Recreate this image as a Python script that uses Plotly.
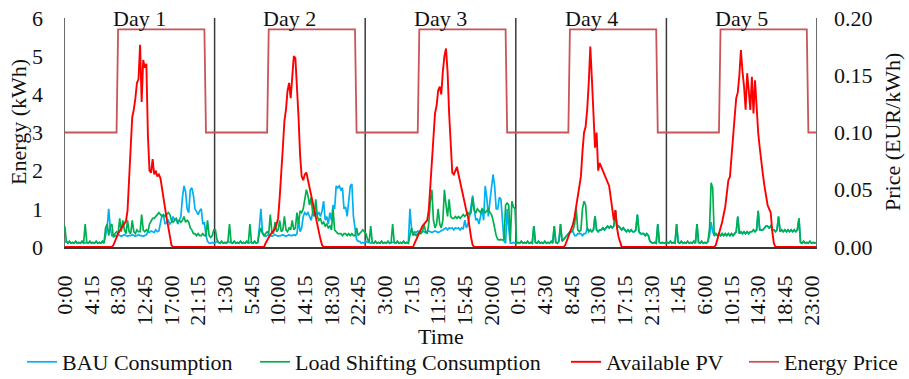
import plotly.graph_objects as go

# ---------------- data (15-minute resolution, 5 days x 96 slots) ----------------
days = ["Day 1", "Day 2", "Day 3", "Day 4", "Day 5"]

tick_labels = ["0:00", "4:15", "8:30", "12:45", "17:00", "21:15",
               "1:30", "5:45", "10:00", "14:15", "18:30", "22:45",
               "3:00", "7:15", "11:30", "15:45", "20:00",
               "0:15", "4:30", "8:45", "13:00", "17:15", "21:30",
               "1:45", "6:00", "10:15", "14:30", "18:45", "23:00"]

bau_d1 = [0.12, 0.15, 0.10, 0.15, 0.10, 0.12, 0.10, 0.15, 0.10, 0.12, 0.10, 0.15,
          0.10, 0.12, 0.12, 0.10, 0.15, 0.10, 0.12, 0.10, 0.15, 0.10, 0.12, 0.10,
          0.15, 0.10, 0.30, 0.50, 1.00, 0.50, 0.30, 0.30, 0.28, 0.30, 0.32, 0.30,
          0.28, 0.30, 0.32, 0.30, 0.28, 0.30, 0.30, 0.32, 0.30, 0.28, 0.30, 0.32,
          0.30, 0.30, 0.28, 0.30, 0.32, 0.40, 0.38, 0.42, 0.40, 0.38, 0.45, 0.40,
          0.42, 0.60, 0.85, 0.80, 0.60, 0.65, 0.70, 0.60, 0.65, 0.80, 0.70, 0.75,
          0.60, 0.70, 0.80, 1.30, 1.60, 1.45, 1.00, 0.90, 1.50, 1.55, 1.35, 1.00,
          0.90, 0.85, 0.95, 1.00, 0.60, 0.65, 0.30, 0.15, 0.10, 0.10, 0.12, 0.10]
bau_d2 = [0.12, 0.15, 0.12, 0.10, 0.15, 0.10, 0.12, 0.10, 0.15, 0.12, 0.12, 0.10,
          0.15, 0.10, 0.12, 0.10, 0.15, 0.10, 0.12, 0.10, 0.15, 0.10, 0.12, 0.12,
          0.10, 0.15, 0.10, 0.12, 0.50, 1.00, 0.40, 0.30, 0.28, 0.30, 0.32, 0.30,
          0.28, 0.30, 0.32, 0.30, 0.28, 0.30, 0.30, 0.32, 0.30, 0.28, 0.30, 0.32,
          0.30, 0.30, 0.32, 0.30, 0.35, 0.70, 0.40, 0.50, 0.80, 0.90, 0.85, 0.90,
          0.80, 0.70, 0.90, 0.95, 0.90, 0.85, 0.90, 0.80, 0.95, 1.20, 0.70, 0.80,
          0.60, 0.90, 0.70, 1.10, 1.00, 1.60, 1.55, 1.60, 1.50, 1.55, 1.00, 1.05,
          0.80, 1.20, 1.60, 1.65, 0.80, 0.50, 0.20, 0.15, 0.15, 0.10, 0.12, 0.10]
bau_d3 = [0.15, 0.12, 0.12, 0.10, 0.12, 0.10, 0.15, 0.10, 0.12, 0.10, 0.15, 0.10,
          0.12, 0.10, 0.15, 0.10, 0.12, 0.12, 0.12, 0.10, 0.15, 0.10, 0.12, 0.10,
          0.15, 0.10, 0.12, 0.10, 1.00, 0.50, 0.35, 0.40, 0.38, 0.42, 0.40, 0.38,
          0.42, 0.40, 0.38, 0.40, 0.42, 0.40, 0.38, 0.40, 0.42, 0.40, 0.38, 0.40,
          0.42, 0.45, 0.48, 0.50, 0.45, 0.50, 0.48, 0.50, 0.45, 0.50, 0.48, 0.50,
          0.45, 0.50, 0.48, 0.70, 0.50, 0.60, 0.80, 1.10, 1.35, 1.00, 0.70, 0.75,
          0.60, 0.80, 1.00, 0.70, 1.60, 1.30, 0.80, 1.20, 1.60, 1.90, 1.60, 1.00,
          1.00, 1.30, 1.25, 0.60, 0.15, 0.10, 1.00, 0.50, 0.10, 0.10, 0.12, 0.10]
bau_d4 = [0.10, 0.12, 0.10, 0.15, 0.10, 0.12, 0.10, 0.15, 0.10, 0.12, 0.10, 0.55,
          0.12, 0.10, 0.15, 0.10, 0.12, 0.10, 0.15, 0.10, 0.12, 0.10, 0.15, 0.10,
          0.55, 0.12, 0.10, 0.15, 0.60, 0.15, 0.20, 0.25, 0.30, 0.35, 0.40, 0.40,
          0.40, 0.30, 0.30, 0.35, 0.35, 0.35, 0.30, 0.35, 0.35, 0.50, 0.40, 0.45,
          0.40, 0.45, 0.80, 0.45, 0.40, 0.45, 0.45, 0.50, 0.45, 0.50, 0.55, 0.50,
          0.55, 0.50, 0.55, 0.95, 0.50, 0.55, 0.50, 0.45, 0.50, 0.45, 0.40, 0.45,
          0.40, 0.45, 0.40, 0.40, 0.45, 0.85, 0.40, 0.35, 0.35, 0.35, 0.30, 0.35,
          0.30, 0.15, 0.12, 0.10, 0.12, 0.10, 0.60, 0.12, 0.10, 0.12, 0.10, 0.12]
bau_d5 = [0.12, 0.10, 0.15, 0.10, 0.12, 0.10, 0.60, 0.12, 0.10, 0.15, 0.10, 0.12,
          0.10, 0.15, 0.10, 0.12, 0.10, 0.15, 0.10, 0.60, 0.12, 0.10, 0.15, 0.10,
          0.12, 0.10, 0.15, 0.30, 0.65, 0.40, 0.30, 0.35, 0.30, 0.35, 0.30, 0.35,
          0.30, 0.35, 0.30, 0.35, 0.30, 0.35, 0.30, 0.35, 0.40, 0.80, 0.35, 0.40,
          0.35, 0.40, 0.35, 0.40, 0.35, 0.40, 0.40, 0.45, 0.40, 0.45, 0.95, 0.45,
          0.45, 0.45, 0.50, 0.55, 0.55, 0.50, 0.55, 0.45, 0.45, 0.40, 0.45, 0.80,
          0.40, 0.45, 0.40, 0.45, 0.40, 0.45, 0.40, 0.45, 0.40, 0.45, 0.40, 0.45,
          0.75, 0.12, 0.10, 0.15, 0.10, 0.12, 0.10, 0.15, 0.10, 0.12, 0.10, 0.12]

ls_d1 = [0.55, 0.15, 0.10, 0.15, 0.10, 0.12, 0.10, 0.15, 0.10, 0.12, 0.10, 0.15,
         0.10, 0.60, 0.12, 0.10, 0.15, 0.10, 0.12, 0.10, 0.15, 0.10, 0.12, 0.10,
         0.15, 0.10, 0.50, 0.60, 0.30, 0.55, 0.60, 0.25, 0.35, 0.40, 0.35, 0.75,
         0.40, 0.70, 0.45, 0.35, 0.70, 0.40, 0.35, 0.70, 0.40, 0.35, 0.45, 0.40,
         0.40, 0.85, 0.45, 0.40, 0.45, 0.40, 0.60, 0.70, 0.75, 0.75, 0.80, 0.85,
         0.90, 0.85, 0.80, 0.85, 0.80, 0.85, 0.90, 0.85, 0.70, 0.65, 0.70, 0.75,
         0.65, 0.70, 0.65, 0.70, 0.80, 0.65, 0.70, 0.65, 0.50, 0.45, 0.35, 0.35,
         0.30, 0.35, 0.30, 0.30, 0.35, 0.30, 0.30, 0.70, 0.30, 0.25, 0.30, 0.45]
ls_d2 = [0.45, 0.20, 0.12, 0.10, 0.15, 0.10, 0.12, 0.10, 0.15, 0.60, 0.12, 0.10,
         0.15, 0.10, 0.12, 0.10, 0.15, 0.10, 0.12, 0.10, 0.15, 0.10, 0.60, 0.12,
         0.10, 0.15, 0.10, 0.12, 0.35, 0.50, 0.35, 0.30, 0.35, 0.40, 0.35, 0.85,
         0.40, 0.35, 0.65, 0.40, 0.45, 0.70, 0.40, 0.45, 0.80, 0.45, 0.40, 0.50,
         0.45, 0.70, 0.45, 0.50, 0.90, 0.60, 0.95, 0.90, 1.00, 1.30, 1.50, 1.35,
         1.10, 1.30, 0.90, 0.80, 1.25, 0.80, 0.70, 0.75, 0.60, 0.65, 0.55, 0.60,
         0.50, 0.55, 0.45, 1.00, 0.45, 0.40, 0.35, 0.35, 0.35, 0.30, 0.35, 0.35,
         0.30, 0.35, 0.30, 0.35, 0.30, 0.30, 0.50, 0.30, 0.35, 0.40, 0.45, 0.40]
ls_d3 = [0.35, 0.20, 0.12, 0.55, 0.12, 0.10, 0.15, 0.10, 0.12, 0.10, 0.15, 0.10,
         0.12, 0.10, 0.15, 0.10, 0.12, 0.60, 0.12, 0.10, 0.15, 0.10, 0.12, 0.10,
         0.15, 0.10, 0.12, 0.10, 0.30, 0.50, 0.30, 0.35, 0.30, 0.35, 0.40, 0.35,
         0.40, 0.60, 0.40, 0.35, 0.60, 1.20, 1.50, 0.70, 0.50, 0.60, 1.00, 0.60,
         0.50, 0.70, 1.50, 1.10, 0.80, 1.25, 0.80, 0.75, 0.75, 0.80, 0.75, 0.80,
         0.75, 0.80, 0.85, 0.80, 0.85, 0.90, 0.85, 0.90, 1.30, 0.95, 0.90, 1.00,
         0.95, 0.90, 1.00, 0.95, 0.90, 0.95, 1.00, 0.90, 0.85, 0.70, 0.50, 0.30,
         0.20, 0.18, 0.20, 0.18, 0.20, 1.10, 1.15, 1.10, 0.15, 1.20, 1.05, 1.00]
ls_d4 = [0.10, 0.12, 0.10, 0.15, 0.10, 0.12, 0.10, 0.15, 0.10, 0.12, 0.10, 0.55,
         0.12, 0.10, 0.15, 0.10, 0.12, 0.10, 0.15, 0.10, 0.12, 0.10, 0.15, 0.10,
         0.55, 0.12, 0.10, 0.15, 0.60, 0.15, 0.20, 0.25, 0.30, 0.35, 0.40, 0.40,
         0.45, 0.60, 1.00, 0.45, 0.40, 0.45, 1.00, 1.20, 1.10, 0.50, 0.40, 0.45,
         0.40, 0.45, 0.80, 0.45, 0.40, 0.45, 0.45, 0.50, 0.45, 0.50, 0.55, 0.50,
         0.55, 0.50, 0.55, 0.95, 0.50, 0.55, 0.50, 0.45, 0.50, 0.45, 0.40, 0.45,
         0.40, 0.45, 0.40, 0.40, 0.45, 0.85, 0.40, 0.35, 0.35, 0.35, 0.30, 0.35,
         0.30, 0.15, 0.12, 0.10, 0.12, 0.10, 0.60, 0.12, 0.10, 0.12, 0.10, 0.12]
ls_d5 = [0.12, 0.10, 0.15, 0.10, 0.12, 0.10, 0.60, 0.12, 0.10, 0.15, 0.10, 0.12,
         0.10, 0.15, 0.10, 0.12, 0.10, 0.15, 0.10, 0.60, 0.12, 0.10, 0.15, 0.10,
         0.12, 0.10, 0.15, 0.50, 1.68, 1.55, 0.30, 0.35, 0.30, 0.35, 0.30, 0.35,
         0.30, 0.35, 0.30, 0.35, 0.30, 0.35, 0.30, 0.35, 0.40, 0.80, 0.35, 0.40,
         0.35, 0.40, 0.35, 0.40, 0.35, 0.40, 0.40, 0.45, 0.40, 0.45, 0.95, 0.45,
         0.45, 0.45, 0.50, 0.55, 0.55, 0.50, 0.55, 0.45, 0.45, 0.40, 0.45, 0.80,
         0.40, 0.45, 0.40, 0.45, 0.40, 0.45, 0.40, 0.45, 0.40, 0.45, 0.40, 0.45,
         0.75, 0.12, 0.10, 0.15, 0.10, 0.12, 0.10, 0.15, 0.10, 0.12, 0.10, 0.12]

pv_d1 = [0, 0, 0, 0, 0, 0, 0, 0, 0, 0, 0, 0,
         0, 0, 0, 0, 0, 0, 0, 0, 0, 0, 0, 0,
         0, 0, 0, 0, 0, 0, 0, 0.05, 0.15, 0.28, 0.35, 0.42,
         0.48, 0.55, 0.60, 0.68, 0.95, 2.00, 2.60, 3.40, 3.60, 3.90, 4.30, 4.40,
         5.30, 3.80, 4.90, 4.70, 4.80, 2.90, 2.00, 1.95, 2.30, 1.90, 2.00, 1.85,
         1.90, 1.80, 1.50, 1.20, 1.00, 0.75, 0.50, 0.30, 0.05, 0, 0, 0,
         0, 0, 0, 0, 0, 0, 0, 0, 0, 0, 0, 0,
         0, 0, 0, 0, 0, 0, 0, 0, 0, 0, 0, 0]
pv_d2 = [0, 0, 0, 0, 0, 0, 0, 0, 0, 0, 0, 0,
         0, 0, 0, 0, 0, 0, 0, 0, 0, 0, 0, 0,
         0, 0, 0, 0, 0, 0, 0, 0, 0.10, 0.20, 0.25, 0.32,
         0.38, 0.42, 0.48, 0.60, 0.75, 1.30, 2.10, 2.60, 3.30, 3.60, 4.10, 4.30,
         3.90, 4.60, 5.00, 4.95, 4.30, 3.40, 2.40, 1.85, 1.75, 1.90, 1.95, 1.75,
         1.55, 1.40, 1.20, 1.00, 0.80, 0.60, 0.40, 0.20, 0.05, 0, 0, 0,
         0, 0, 0, 0, 0, 0, 0, 0, 0, 0, 0, 0,
         0, 0, 0, 0, 0, 0, 0, 0, 0, 0, 0, 0]
pv_d3 = [0, 0, 0, 0, 0, 0, 0, 0, 0, 0, 0, 0,
         0, 0, 0, 0, 0, 0, 0, 0, 0, 0, 0, 0,
         0, 0, 0, 0, 0, 0, 0, 0.10, 0.20, 0.30, 0.40, 0.50,
         0.55, 0.60, 0.65, 0.70, 0.95, 1.60, 2.30, 3.00, 3.50, 3.70, 4.10, 4.20,
         4.00, 4.60, 5.00, 5.20, 4.60, 3.50, 2.50, 1.95, 1.90, 2.00, 2.10, 1.90,
         1.70, 1.50, 1.30, 1.10, 0.95, 0.80, 0.50, 0.25, 0.05, 0, 0, 0,
         0, 0, 0, 0, 0, 0, 0, 0, 0, 0, 0, 0,
         0, 0, 0, 0, 0, 0, 0, 0, 0, 0, 0, 0]
pv_d4 = [0, 0, 0, 0, 0, 0, 0, 0, 0, 0, 0, 0,
         0, 0, 0, 0, 0, 0, 0, 0, 0, 0, 0, 0,
         0, 0, 0, 0, 0, 0, 0, 0.05, 0.15, 0.25, 0.40, 0.50,
         0.60, 0.80, 1.05, 1.40, 1.65, 1.85, 2.50, 3.00, 3.15, 3.60, 4.30, 5.25,
         4.40, 3.40, 2.60, 3.00, 2.00, 2.20, 2.10, 2.00, 1.90, 1.75, 1.70, 1.60,
         1.30, 1.00, 0.70, 0.97, 0.50, 0.27, 0.10, 0, 0, 0, 0, 0,
         0, 0, 0, 0, 0, 0, 0, 0, 0, 0, 0, 0,
         0, 0, 0, 0, 0, 0, 0, 0, 0, 0, 0, 0]
pv_d5 = [0, 0, 0, 0, 0, 0, 0, 0, 0, 0, 0, 0,
         0, 0, 0, 0, 0, 0, 0, 0, 0, 0, 0, 0,
         0, 0, 0, 0, 0, 0, 0, 0.05, 0.20, 0.30, 0.45, 0.65,
         0.85, 1.05, 1.40, 1.75, 1.84, 2.30, 2.90, 3.40, 3.90, 4.05, 4.50, 5.16,
         4.60, 4.20, 3.60, 4.55, 4.10, 3.59, 4.46, 3.50, 4.37, 3.60, 3.00, 2.60,
         2.20, 1.90, 1.60, 1.30, 1.10, 1.00, 0.90, 0.40, 0.10, 0, 0, 0,
         0, 0, 0, 0, 0, 0, 0, 0, 0, 0, 0, 0,
         0, 0, 0, 0, 0, 0, 0, 0, 0, 0, 0, 0]

# daily tariff (EUR/kWh), identical each day
tariff = [0.10, 0.10, 0.10, 0.10, 0.10, 0.10, 0.10, 0.10, 0.10, 0.10, 0.10, 0.10,
          0.10, 0.10, 0.10, 0.10, 0.10, 0.10, 0.10, 0.10, 0.10, 0.10, 0.10, 0.10,
          0.10, 0.10, 0.10, 0.10, 0.10, 0.10, 0.10, 0.10, 0.10, 0.10, 0.19, 0.19,
          0.19, 0.19, 0.19, 0.19, 0.19, 0.19, 0.19, 0.19, 0.19, 0.19, 0.19, 0.19,
          0.19, 0.19, 0.19, 0.19, 0.19, 0.19, 0.19, 0.19, 0.19, 0.19, 0.19, 0.19,
          0.19, 0.19, 0.19, 0.19, 0.19, 0.19, 0.19, 0.19, 0.19, 0.19, 0.19, 0.19,
          0.19, 0.19, 0.19, 0.19, 0.19, 0.19, 0.19, 0.19, 0.19, 0.19, 0.19, 0.19,
          0.19, 0.19, 0.19, 0.19, 0.19, 0.19, 0.10, 0.10, 0.10, 0.10, 0.10, 0.10]

bau = bau_d1 + bau_d2 + bau_d3 + bau_d4 + bau_d5
ls = ls_d1 + ls_d2 + ls_d3 + ls_d4 + ls_d5
pv = pv_d1 + pv_d2 + pv_d3 + pv_d4 + pv_d5
price = tariff * 5
slot = list(range(len(bau)))
per_day = 96

# ---------------- figure ----------------
FONT = "Liberation Serif, Times New Roman, Times, DejaVu Serif, serif"
TXT = "#111111"
fs = 22

L, R, T, B = 64, 92, 18, 132
W, H = 909, 379
PW = W - L - R
PH = H - T - B


def px_x(p):
    return (p - L) / PW


def px_y(p):
    return (H - B - p) / PH


fig = go.Figure()
fig.add_trace(go.Scatter(x=slot, y=bau, name="BAU Consumption", mode="lines", legend="legend",
                         line=dict(color="#00B0F0", width=1.7)))
fig.add_trace(go.Scatter(x=slot, y=ls, name="Load Shifting Consumption", mode="lines", legend="legend2",
                         line=dict(color="#00B050", width=1.7)))
fig.add_trace(go.Scatter(x=slot, y=pv, name="Available PV", mode="lines", legend="legend3",
                         line=dict(color="#FF0000", width=1.9)))
fig.add_trace(go.Scatter(x=slot, y=price, name="Energy Price", mode="lines", legend="legend4",
                         yaxis="y2", line=dict(color="#C8555A", width=1.8)))

shapes = []
for k in range(len(days) + 1):
    shapes.append(dict(type="line", xref="x", yref="y", x0=k * per_day - 0.5, x1=k * per_day - 0.5,
                       y0=0, y1=6, line=dict(color="#3a3a3a", width=1.5), layer="below"))

tf = dict(family=FONT, size=fs, color=TXT)
annotations = []
for k, d in enumerate(days):
    annotations.append(dict(text=d, xref="x", yref="paper", x=k * per_day + per_day / 2 - 0.5, y=1.0,
                            xanchor="center", yanchor="middle", showarrow=False, font=tf))
annotations += [
    dict(text="Energy (kWh)", xref="paper", yref="paper", x=px_x(19), y=px_y(122), textangle=-90,
         xanchor="center", yanchor="middle", showarrow=False, font=tf),
    dict(text="Price (EUR/kWh)", xref="paper", yref="paper", x=px_x(892), y=px_y(132), textangle=-90,
         xanchor="center", yanchor="middle", showarrow=False, font=tf),
    dict(text="Time", xref="paper", yref="paper", x=px_x(441), y=px_y(336),
         xanchor="center", yanchor="middle", showarrow=False, font=tf),
]

legend_text_starts = [63, 296, 607, 785]


def leg(p):
    return dict(orientation="h", x=px_x(p - 41), xanchor="left", y=px_y(362), yanchor="middle",
                font=tf, bgcolor="rgba(0,0,0,0)", borderwidth=0)


fig.update_layout(
    width=W, height=H,
    margin=dict(l=L, r=R, t=T, b=B, autoexpand=False),
    paper_bgcolor="white", plot_bgcolor="white",
    font=tf,
    showlegend=True,
    legend=leg(legend_text_starts[0]),
    legend2=leg(legend_text_starts[1]),
    legend3=leg(legend_text_starts[2]),
    legend4=leg(legend_text_starts[3]),
    xaxis=dict(range=[-0.5, 479.5], tickmode="array", tickvals=slot[::17], ticktext=tick_labels,
               tickangle=-90, showgrid=False, zeroline=False, showline=True, automargin=False,
               linecolor="#3a3a3a", linewidth=1.5, ticks="", ticklabelstandoff=18, tickfont=tf),
    yaxis=dict(range=[0, 6], tickvals=[0, 1, 2, 3, 4, 5, 6], showgrid=False, zeroline=False,
               showline=False, ticks="", ticklabelstandoff=20, automargin=False, tickfont=tf),
    yaxis2=dict(range=[0, 0.2], tickvals=[0, 0.05, 0.10, 0.15, 0.20], tickformat=".2f",
                overlaying="y", side="right", showgrid=False, zeroline=False, showline=False,
                ticks="", ticklabelstandoff=16, automargin=False, tickfont=tf),
    shapes=shapes,
    annotations=annotations,
)

fig.write_html("out.html", config={"displayModeBar": False},
               post_script="document.body.style.margin='0px';document.body.style.padding='0px';")
